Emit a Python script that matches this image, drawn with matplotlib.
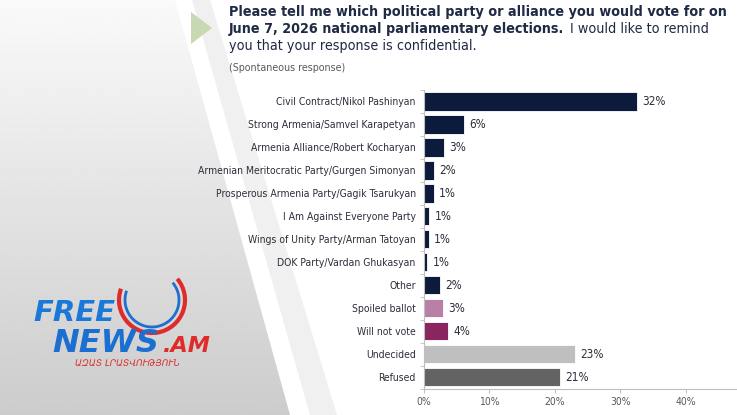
import matplotlib.pyplot as plt
import matplotlib.patches as mpatches
import numpy as np

# Survey data (percent), top to bottom
categories = [
    'Civil Contract/Nikol Pashinyan',
    'Strong Armenia/Samvel Karapetyan',
    'Armenia Alliance/Robert Kocharyan',
    'Armenian Meritocratic Party/Gurgen Simonyan',
    'Prosperous Armenia Party/Gagik Tsarukyan',
    'I Am Against Everyone Party',
    'Wings of Unity Party/Arman Tatoyan',
    'DOK Party/Vardan Ghukasyan',
    'Other',
    'Spoiled ballot',
    'Will not vote',
    'Undecided',
    'Refused',
]
values = [32.5, 6.1, 3.05, 1.6, 1.5, 0.8, 0.7, 0.5, 2.45, 2.85, 3.7, 23.1, 20.8]
value_labels = ['32%', '6%', '3%', '2%', '1%', '1%', '1%', '1%', '2%', '3%', '4%', '23%', '21%']
colors = ['#0c1a3b'] * 9 + ['#b97fa6', '#8b2560', '#bfbfbf', '#636363']
xticks = [0, 10, 20, 30, 40]

W, H = 737, 415
fig = plt.figure(figsize=(W / 100, H / 100), dpi=100)
fig.patch.set_facecolor('white')
cond = dict(family='DejaVu Sans', fontstretch='condensed')

# Slide background
bg = fig.add_axes([0, 0, 1, 1], zorder=0)
bg.set_xlim(0, W)
bg.set_ylim(H, 0)
bg.axis('off')
grad = np.linspace(0.98, 0.80, 256).reshape(-1, 1)
img = bg.imshow(grad, extent=[0, W, H, 0], cmap='gray', vmin=0, vmax=1, aspect='auto')
gray_poly = mpatches.Polygon([(0, 0), (175, 0), (290, H), (0, H)], closed=True,
                             transform=bg.transData, facecolor='none', edgecolor='none')
bg.add_patch(gray_poly)
img.set_clip_path(gray_poly)
bg.add_patch(mpatches.Polygon([(192, 0), (210, 0), (337, H), (310, H)],
                              facecolor='#f0f0f0', edgecolor='none'))
bg.add_patch(mpatches.Polygon([(191, 12), (212, 28), (191, 44)],
                              facecolor='#c8d8b3', edgecolor='none'))

# Logo (approximate)
bg.add_patch(mpatches.Arc((152, 300), 66, 66, theta1=-40, theta2=200,
                          color='#e02b2b', lw=3))
bg.add_patch(mpatches.Arc((152, 300), 54, 54, theta1=-40, theta2=200,
                          color='#1f6fd0', lw=2))
bg.text(33, 321, 'FREE', fontsize=21, fontweight='bold', style='italic',
        color='#1a78d8', family='DejaVu Sans', va='baseline')
bg.text(52, 352, 'NEWS', fontsize=23, fontweight='bold', style='italic',
        color='#1a6fd0', family='DejaVu Sans', va='baseline')
bg.text(163, 352, '.AM', fontsize=16, fontweight='bold', style='italic',
        color='#e02b2b', family='DejaVu Sans', va='baseline')
bg.text(75, 366, 'ԱԶԱՏ ԼՐԱՏՎՈՒԹՅՈՒՆ', fontsize=6.5, style='italic',
        color='#e02b2b', family='DejaVu Sans', va='baseline')

# Title
title_color = '#1f2a44'
tfont = dict(fontsize=10.25, color=title_color, **cond)
fig.text(229 / W, 1 - 12 / H, 'Please tell me which political party or alliance you would vote for on',
         fontweight='bold', va='center', **tfont)
t2 = fig.text(229 / W, 1 - 29 / H, 'June 7, 2026 national parliamentary elections.',
              fontweight='bold', va='center', **tfont)
fig.canvas.draw()
bb = t2.get_window_extent()
fig.text(bb.x1 / W + 6 / W, 1 - 29 / H, 'I would like to remind', va='center', **tfont)
fig.text(229 / W, 1 - 46 / H, 'you that your response is confidential.', va='center', **tfont)
fig.text(229 / W, 1 - 68 / H, '(Spontaneous response)', va='center',
         fontsize=7.7, color='#595959', **cond)

# Chart
ax = fig.add_axes([424 / W, 26.5 / H, 1 - 424 / W, (388.5 - 90) / H], zorder=2)
ax.patch.set_alpha(0)
y = np.arange(len(categories))
bars = ax.barh(y, values, height=0.8, color=colors, edgecolor='white', linewidth=0.6)
ax.set_ylim(len(categories) - 0.5, -0.5)
ax.set_xlim(0, 47.8)
ax.set_yticks(y)
ax.set_yticklabels(categories, fontsize=7.5, color='#2b2f3a', **cond)
ax.set_yticks(np.arange(len(categories) + 1) - 0.5, minor=True)
ax.tick_params(axis='y', which='major', length=0, pad=6)
ax.tick_params(axis='y', which='minor', length=3, color='#bfbfbf')
ax.set_xticks(xticks)
ax.set_xticklabels([f'{t}%' for t in xticks], fontsize=7.5, color='#595959', **cond)
ax.tick_params(axis='x', length=3, color='#bfbfbf', pad=3)
for s in ['top', 'right']:
    ax.spines[s].set_visible(False)
ax.spines['left'].set_color('#bfbfbf')
ax.spines['bottom'].set_color('#bfbfbf')

for bar, lab in zip(bars, value_labels):
    ax.text(bar.get_width() + 0.8, bar.get_y() + bar.get_height() / 2, lab,
            va='center', ha='left', fontsize=8.5, color='#2b2f3a', **cond)

fig.savefig('out.png', dpi=100)
